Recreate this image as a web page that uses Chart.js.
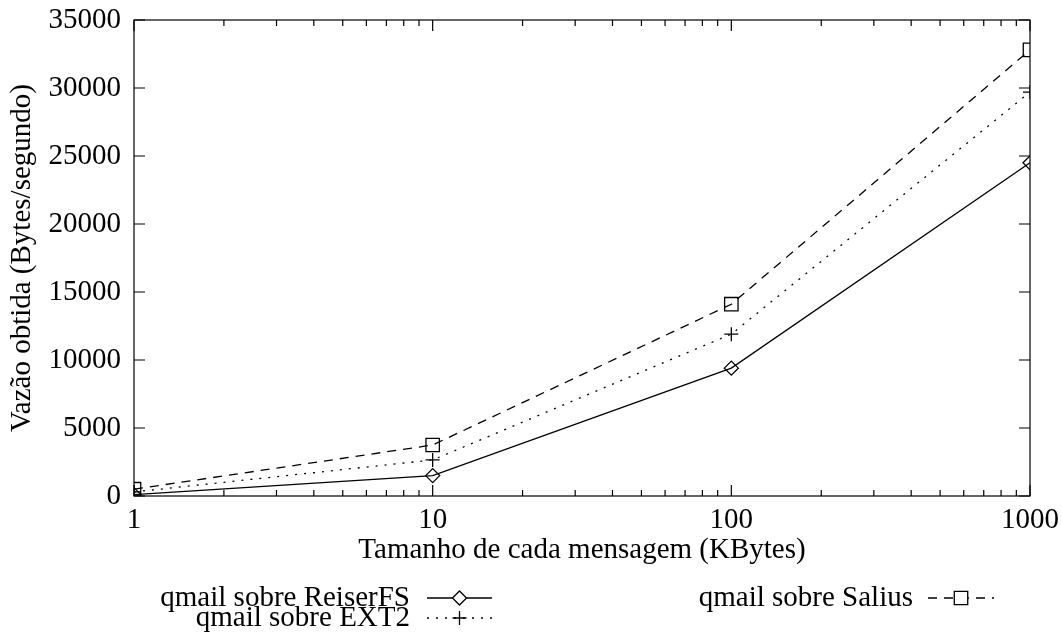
<!DOCTYPE html>
<html>
<head>
<meta charset="utf-8">
<script src="https://cdn.jsdelivr.net/npm/chart.js@4/dist/chart.umd.min.js"></script>
<style>
  html, body { margin: 0; padding: 0; background: #fff; }
  #wrap { width: 1062px; height: 632px; position: relative; }
</style>
</head>
<body>
<div id="wrap"><canvas id="grafico"></canvas></div>
<script>
// tamanho das mensagens (KBytes) e vazão medida para cada sistema de arquivos
const tamanhos = [1, 10, 100, 1000];
const reiserfs = [100, 1500, 9400, 24500];
const ext2 = [300, 2650, 11900, 29700];
const salius = [500, 3750, 14100, 32800];
const ticksX = [1, 10, 100, 1000];
const ticksY = [0, 5000, 10000, 15000, 20000, 25000, 30000, 35000];

const fonte = "'Liberation Serif', 'Times New Roman', serif";

function pontos(valores) {
    return tamanhos.map((t, i) => ({ x: t, y: valores[i] }));
}

// posição de cada entrada da legenda (embaixo do gráfico, estilo gnuplot)
const legendaPos = [
    { textoX: 410, y: 598, x0: 427, x1: 492 },
    { textoX: 410, y: 618, x0: 427, x1: 492 },
    { textoX: 913, y: 598, x0: 928, x1: 994 }
];

// moldura, marcas internas (inclusive espelhadas) e legenda
const moldura = {
    id: 'moldura',
    afterDraw(chart) {
        const ctx = chart.ctx;
        const a = chart.chartArea;
        const sx = chart.scales.x, sy = chart.scales.y;
        ctx.save();
        ctx.strokeStyle = '#000';
        ctx.lineWidth = 1.2;
        ctx.setLineDash([]);
        ctx.strokeRect(a.left, a.top, a.right - a.left, a.bottom - a.top);
        ctx.beginPath();
        ticksY.forEach(v => {
            const py = sy.getPixelForValue(v);
            ctx.moveTo(a.left, py); ctx.lineTo(a.left + 11, py);
            ctx.moveTo(a.right, py); ctx.lineTo(a.right - 11, py);
        });
        for (let d = 1; d <= 1000; d *= 10) {
            for (let m = 1; m <= 9; m++) {
                const v = d * m;
                if (v > 1000) break;
                const px = sx.getPixelForValue(v);
                const len = m === 1 ? 11 : 6;
                ctx.moveTo(px, a.bottom); ctx.lineTo(px, a.bottom - len);
                ctx.moveTo(px, a.top); ctx.lineTo(px, a.top + len);
            }
        }
        ctx.stroke();

        ctx.font = '29px ' + fonte;
        ctx.textAlign = 'right';
        ctx.textBaseline = 'middle';
        chart.data.datasets.forEach((ds, i) => {
            const p = legendaPos[i];
            ctx.fillStyle = '#000';
            ctx.fillText(ds.label, p.textoX, p.y);
            ctx.lineWidth = ds.borderWidth;
            ctx.setLineDash(ds.borderDash || []);
            ctx.beginPath();
            ctx.moveTo(p.x0, p.y); ctx.lineTo(p.x1, p.y);
            ctx.stroke();
            ctx.setLineDash([]);
            ctx.fillStyle = '#fff';
            Chart.helpers.drawPoint(ctx, {
                pointStyle: ds.pointStyle,
                radius: ds.pointRadius,
                borderWidth: 1.3
            }, (p.x0 + p.x1) / 2, p.y);
        });
        ctx.restore();
    }
};

new Chart(document.getElementById('grafico'), {
    type: 'line',
    data: {
        datasets: [
            {
                label: 'qmail sobre ReiserFS',
                data: pontos(reiserfs),
                borderColor: '#000',
                borderWidth: 1.3,
                pointStyle: 'rectRot',
                pointRadius: 7,
                pointBorderWidth: 1.3,
                pointBackgroundColor: 'rgba(0,0,0,0)',
                pointBorderColor: '#000'
            },
            {
                label: 'qmail sobre EXT2',
                data: pontos(ext2),
                borderColor: '#000',
                borderWidth: 1.3,
                borderDash: [2, 7],
                pointStyle: 'cross',
                pointRadius: 7,
                pointBorderWidth: 1.3,
                pointBorderColor: '#000'
            },
            {
                label: 'qmail sobre Salius',
                data: pontos(salius),
                borderColor: '#000',
                borderWidth: 1.3,
                borderDash: [9, 7],
                pointStyle: 'rect',
                pointRadius: 9.5,
                pointBorderWidth: 1.3,
                pointBackgroundColor: 'rgba(0,0,0,0)',
                pointBorderColor: '#000'
            }
        ]
    },
    options: {
        responsive: true,
        maintainAspectRatio: false,
        animation: false,
        layout: { padding: { top: 20, right: 32, left: 0, bottom: 0 } },
        plugins: { legend: { display: false }, tooltip: { enabled: false } },
        scales: {
            x: {
                type: 'logarithmic',
                min: 1,
                max: 1000,
                afterBuildTicks: s => { s.ticks = ticksX.map(v => ({ value: v })); },
                afterFit: s => { s.height = 136; s.paddingLeft = 0; s.paddingRight = 0; },
                grid: { display: false, drawTicks: false },
                border: { display: false },
                ticks: {
                    color: '#000',
                    font: { family: fonte, size: 29 },
                    padding: 7,
                    maxRotation: 0,
                    callback: v => String(v)
                },
                title: {
                    display: true,
                    text: 'Tamanho de cada mensagem (KBytes)',
                    color: '#000',
                    font: { family: fonte, size: 29 },
                    padding: { top: 0, bottom: 64 }
                }
            },
            y: {
                min: 0,
                max: 35000,
                afterBuildTicks: s => { s.ticks = ticksY.map(v => ({ value: v })); },
                afterFit: s => { s.width = 134; s.paddingTop = 0; s.paddingBottom = 0; },
                grid: { display: false, drawTicks: false },
                border: { display: false },
                ticks: {
                    color: '#000',
                    font: { family: fonte, size: 29 },
                    padding: 13,
                    callback: v => String(v)
                },
                title: {
                    display: true,
                    text: 'Vazão obtida (Bytes/segundo)',
                    color: '#000',
                    font: { family: fonte, size: 29 },
                    padding: { top: 5, bottom: 0 }
                }
            }
        }
    },
    plugins: [moldura]
});
</script>
</body>
</html>
